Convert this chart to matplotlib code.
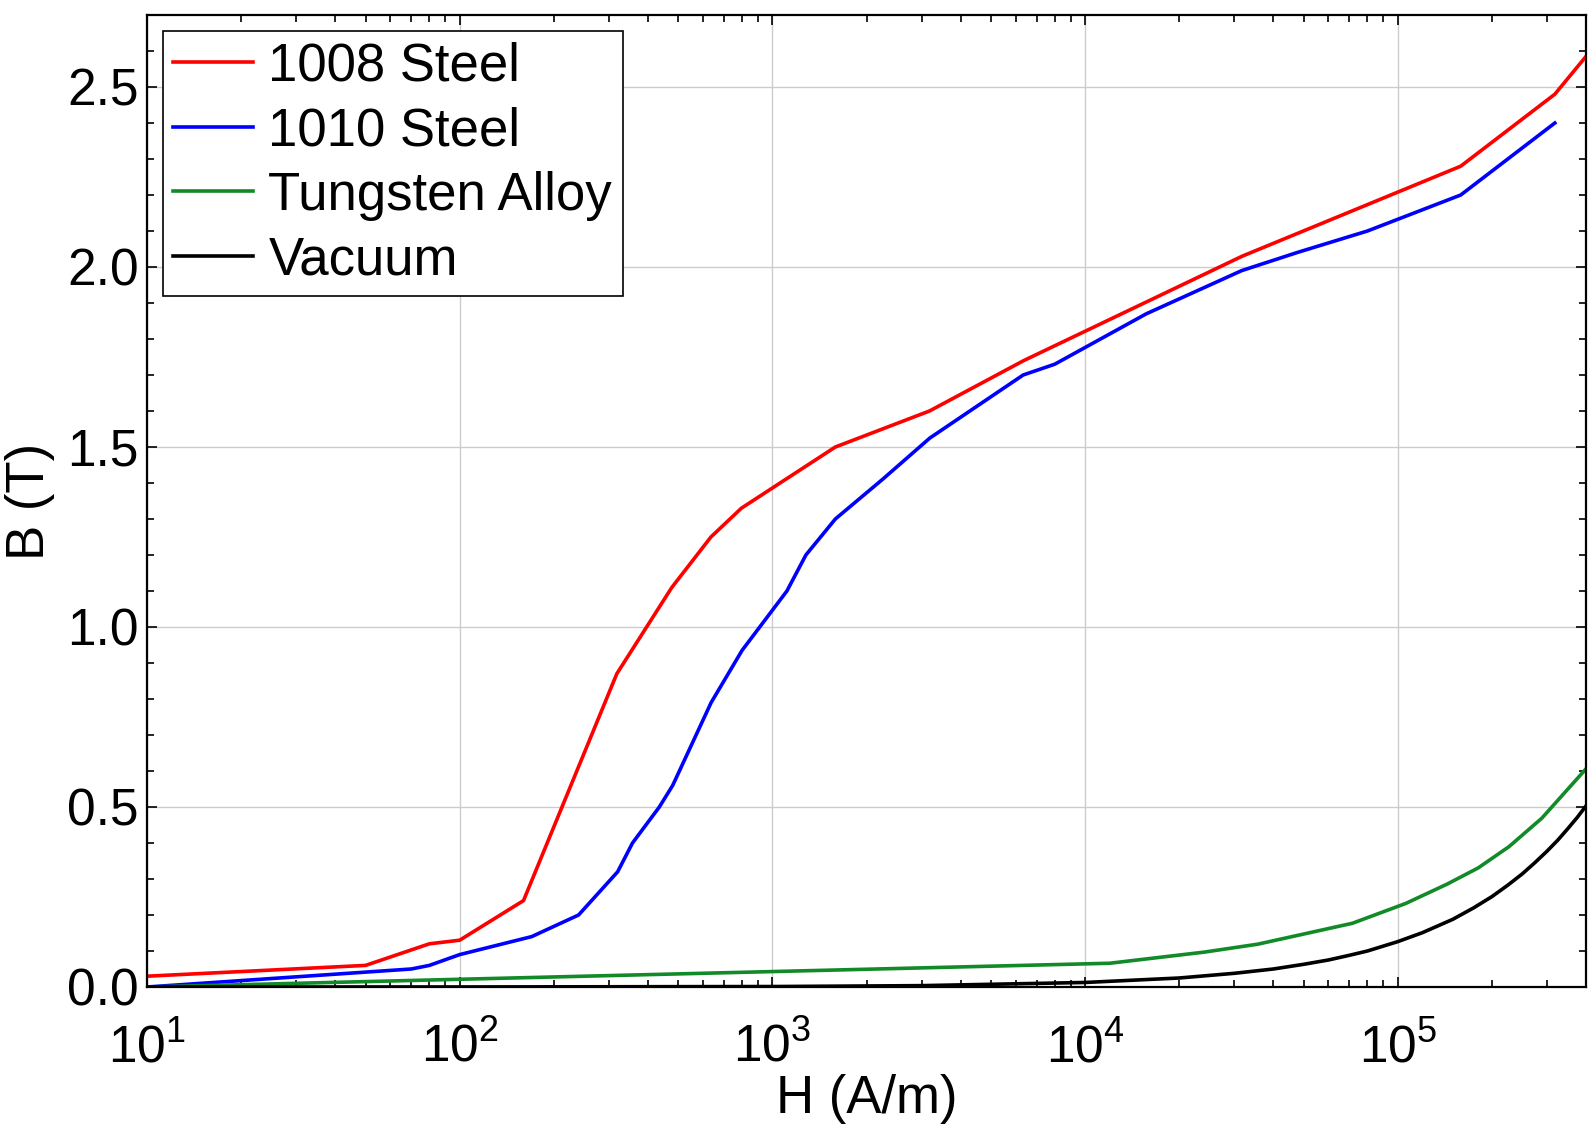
import numpy as np
import matplotlib
matplotlib.use('Agg')
import matplotlib.pyplot as plt
from matplotlib.ticker import MultipleLocator, LogLocator

plt.rcParams['font.family'] = ['Liberation Sans', 'DejaVu Sans']
plt.rcParams['mathtext.fontset'] = 'custom'
plt.rcParams['mathtext.rm'] = 'Liberation Sans'
plt.rcParams['mathtext.it'] = 'Liberation Sans'
plt.rcParams['mathtext.default'] = 'regular'

# B-H curves
h_1008 = [10, 50, 80, 100, 160, 318, 477, 636, 796, 1590, 3180, 6365, 31800, 159000, 318000, 400000]
b_1008 = [0.03, 0.06, 0.12, 0.13, 0.24, 0.87, 1.11, 1.25, 1.33, 1.50, 1.60, 1.74, 2.03, 2.28, 2.48, 2.585]

h_1010 = [10, 70, 80, 100, 170, 240, 320, 357, 435, 480, 637, 800, 1113, 1280, 1590, 2250,
          3190, 6340, 8000, 15700, 31700, 47600, 80000, 159000, 318000]
b_1010 = [0.0, 0.05, 0.06, 0.09, 0.14, 0.20, 0.32, 0.40, 0.50, 0.56, 0.79, 0.935, 1.10, 1.20, 1.30, 1.41,
          1.525, 1.70, 1.73, 1.87, 1.99, 2.04, 2.10, 2.20, 2.40]

h_tung = [10, 12000, 24100, 35700, 71600, 106000, 144000, 181000, 227000, 289000, 400000]
b_tung = [0.0, 0.066, 0.097, 0.119, 0.177, 0.232, 0.286, 0.331, 0.39, 0.469, 0.606]

h_vac = [10, 100, 1000, 3000, 10000, 20000, 30000, 40000, 50000, 60000, 70000, 80000, 100000,
         120000, 150000, 175000, 200000, 225000, 250000, 275000, 300000, 325000, 350000, 375000, 400000]
b_vac = [0.0, 0.0001, 0.0013, 0.0038, 0.0126, 0.025, 0.038, 0.050, 0.063, 0.075, 0.088, 0.100, 0.126,
         0.151, 0.188, 0.220, 0.251, 0.283, 0.314, 0.346, 0.377, 0.408, 0.440, 0.471, 0.503]

labels = ['1008 Steel', '1010 Steel', 'Tungsten Alloy', 'Vacuum']
colors = ['#ff0000', '#0000ff', '#128a28', '#000000']

fig = plt.figure(figsize=(15.96, 11.25), dpi=100)
ax = fig.add_axes([147/1596, 1 - 987/1125, (1586-147)/1596, (987-15)/1125])

for h, b, lab, c in zip([h_1008, h_1010, h_tung, h_vac], [b_1008, b_1010, b_tung, b_vac], labels, colors):
    ax.plot(h, b, color=c, lw=2.6, label=lab)

ax.set_xscale('log')
ax.set_xlim(10, 4e5)
ax.set_ylim(0, 2.7)
ax.yaxis.set_major_locator(MultipleLocator(0.5))
ax.yaxis.set_minor_locator(MultipleLocator(0.1))
ax.xaxis.set_minor_locator(LogLocator(base=10, subs=np.arange(2, 10)))
ax.yaxis.set_major_formatter(matplotlib.ticker.FormatStrFormatter('%.1f'))

ax.grid(True, which='major', color='#cccccc', lw=1.0)
ax.set_axisbelow(True)
for s in ax.spines.values():
    s.set_linewidth(1.6)

ax.tick_params(which='both', direction='in', top=True, right=True, width=1.2, labelsize=37)
ax.tick_params(which='major', length=7)
ax.tick_params(which='minor', length=5)
ax.tick_params(axis='x', pad=26)
ax.tick_params(axis='y', pad=6)

ax.set_xlabel('H (A/m)', fontsize=38, labelpad=0)
ax.set_ylabel('B (T)', fontsize=38, labelpad=9)

leg = ax.legend(loc='upper left', fontsize=38, frameon=True, fancybox=False, framealpha=1,
                edgecolor='black', handlelength=1.5, handletextpad=0.3, labelspacing=0.28,
                borderpad=0.2, borderaxespad=0.3)
leg.get_frame().set_linewidth(1.2)

fig.savefig('out.png', dpi=100)
